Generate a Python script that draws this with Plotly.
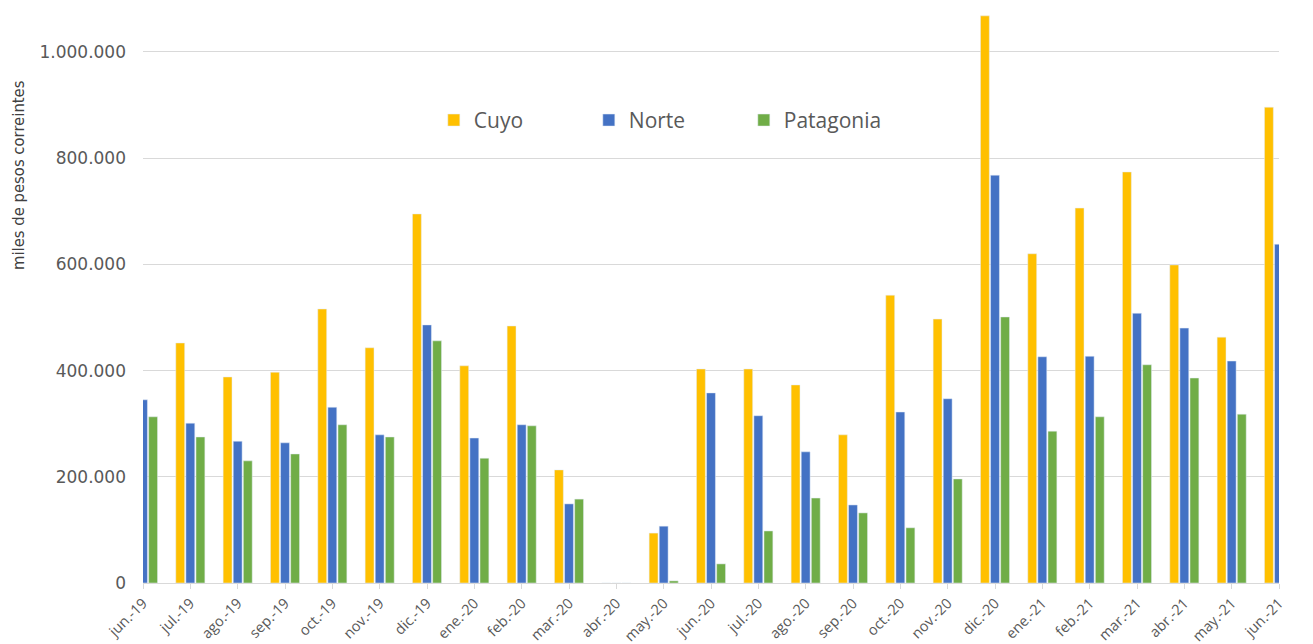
import plotly.graph_objects as go

months = ["jun.-19", "jul.-19", "ago.-19", "sep.-19", "oct.-19", "nov.-19", "dic.-19",
          "ene.-20", "feb.-20", "mar.-20", "abr.-20", "may.-20", "jun.-20", "jul.-20",
          "ago.-20", "sep.-20", "oct.-20", "nov.-20", "dic.-20", "ene.-21", "feb.-21",
          "mar.-21", "abr.-21", "may.-21", "jun.-21"]

cuyo = [None, 452000, 388000, 397000, 516000, 443000, 695000, 409000, 484000, 213000, 0,
        94000, 403000, 403000, 373000, 279000, 542000, 497000, 1068000, 620000, 706000,
        774000, 599000, 463000, 896000]
norte = [345000, 301000, 267000, 264000, 331000, 279000, 486000, 273000, 298000, 149000, 0,
         107000, 358000, 315000, 247000, 147000, 322000, 347000, 768000, 426000, 427000,
         508000, 480000, 418000, 638000]
patagonia = [313000, 275000, 230000, 243000, 298000, 275000, 456000, 235000, 296000, 158000, 0,
             4000, 36000, 98000, 160000, 132000, 104000, 196000, 501000, 286000, 313000,
             411000, 386000, 318000, None]

xpos = list(range(len(months)))

fig = go.Figure()
fig.add_trace(go.Bar(name="Cuyo", x=xpos, y=cuyo, marker_color="#FFC000"))
fig.add_trace(go.Bar(name="Norte", x=xpos, y=norte, marker_color="#4472C4"))
fig.add_trace(go.Bar(name="Patagonia", x=xpos, y=patagonia, marker_color="#70AD47"))

grey = "#595959"
fig.update_layout(
    width=1305, height=636,
    margin=dict(l=135, r=34, t=6, b=61),
    plot_bgcolor="white", paper_bgcolor="white",
    barmode="group", bargap=0.36, bargroupgap=0.12,
    separators=",.",
    font=dict(family="DejaVu Sans", color=grey),
    legend=dict(orientation="h", x=0.256, y=0.813, xanchor="left", yanchor="middle",
                entrywidth=110, entrywidthmode="pixels",
                font=dict(size=21, family="Open Sans", color=grey), bgcolor="rgba(0,0,0,0)"),
    showlegend=True,
    annotations=[dict(text="miles de pesos correintes", textangle=-90,
                      xref="paper", yref="paper", x=-0.110, y=0.717,
                      xanchor="center", yanchor="middle", showarrow=False,
                      font=dict(size=16.5, color="#404040",
                                family="Liberation Sans Narrow, DejaVu Sans Condensed, Liberation Sans"))],
)
fig.update_xaxes(
    range=[0, 24], tickmode="array", tickvals=xpos, ticktext=months,
    tickangle=-45, tickfont=dict(size=14.5, color=grey, family="Open Sans"),
    ticks="outside", ticklen=5, tickcolor="#d9d9d9", automargin=False,
    showline=True, linecolor="#d9d9d9", showgrid=False, zeroline=False,
)
fig.update_yaxes(
    range=[0, 1071500], tickvals=[0, 200000, 400000, 600000, 800000, 1000000],
    tickformat=",d", tickfont=dict(size=17, color=grey, family="DejaVu Sans"),
    showgrid=True, gridcolor="#d9d9d9", gridwidth=1, zeroline=False,
    ticks="", ticklabelstandoff=16, automargin=False,
)

fig.write_html("out.html")
